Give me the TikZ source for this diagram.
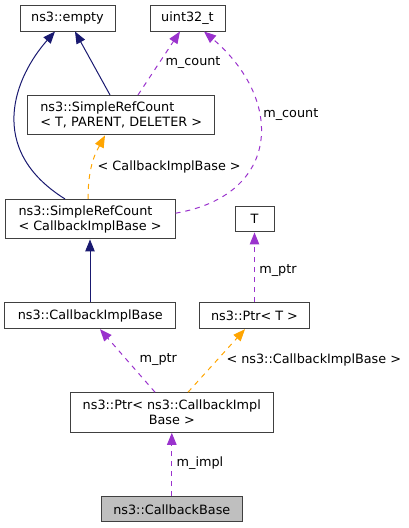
\documentclass[tikz,border=0pt]{standalone}
\usepackage{fontspec}
\setmainfont{DejaVu Sans}
\usetikzlibrary{arrows.meta}
\definecolor{inhcol}{HTML}{191970}
\definecolor{usecol}{HTML}{9A32CD}
\definecolor{tplcol}{HTML}{FFA500}
\tikzset{cls/.style={draw=black!75,line width=1pt,inner sep=0pt,minimum height=26pt,
        font=\fontsize{12.8}{15}\selectfont},
    cls2/.style={cls,align=left,minimum height=39.5pt},
    lbl/.style={inner sep=0pt,font=\fontsize{12.8}{15}\selectfont},
    inherit/.style={inhcol,line width=1pt,-{Triangle[length=12pt,width=9.5pt]}},
    member/.style={usecol,line width=1pt,dash pattern=on 5pt off 5pt,-{Triangle[length=12pt,width=9.5pt]}},
    tmpl/.style={tplcol,line width=1pt,dash pattern=on 5pt off 5pt,-{Triangle[length=12pt,width=9.5pt]}}}
\begin{document}
\begin{tikzpicture}[x=1pt,y=-1pt]
      \useasboundingbox (0,0) rectangle (409,528);
      \node[cls,minimum width=95pt] (empty) at (67.5,18) {ns3::empty};
      \node[cls,minimum width=75pt] (uint) at (187.5,18) {uint32\_t};
      \node[cls2,minimum width=187pt] (srctpd) at (121.2,115.2) {ns3::SimpleRefCount\\< T, PARENT, DELETER >};
      \node[cls2,minimum width=170pt] (srccib) at (90,219.2) {ns3::SimpleRefCount\\< CallbackImplBase >};
      \node[cls,minimum width=39pt,minimum height=25.3pt] (T) at (254.5,219.3) {T};
      \node[cls,minimum width=170.7pt] (cib) at (90.3,315.7) {ns3::CallbackImplBase};
      \node[cls,minimum width=109.6pt] (ptrT) at (254.5,315.7) {ns3::Ptr< T >};
      \node[cls,minimum width=203pt,minimum height=39.6pt,align=center] (ptrcib) at (171.8,412.5) {ns3::Ptr< ns3::CallbackImpl\\Base >};
      \node[cls,fill=black!25,minimum width=141pt,minimum height=25.3pt] (cb) at (171.8,509.3) {ns3::CallbackBase};
      % edges
      \draw[inherit] ([xshift=-25pt]srccib.north) .. controls +(-80,-50) and +(-40,45) .. ([xshift=-12.5pt]empty.south);
      \draw[inherit] ([xshift=-11.2pt]srctpd.north) -- ([xshift=7.5pt]empty.south);
      \draw[member] ([xshift=16.8pt]srctpd.north) -- ([xshift=-7.5pt]uint.south);
      \draw[member] ([yshift=6pt]srccib.east) .. controls +(105,-18) and +(81,69) .. ([xshift=16.5pt]uint.south);
      \draw[tmpl] ([xshift=-2pt]srccib.north) .. controls +(0,-35) and +(-8,15) .. ([xshift=-16.2pt]srctpd.south);
      \draw[inherit] (cib.north -| srccib.south) -- (srccib.south);
      \draw[member] (ptrT.north) -- (T.south);
      \draw[member] ([xshift=-16.8pt]ptrcib.north) -- ([xshift=9.7pt]cib.south);
      \draw[tmpl] ([xshift=16.2pt]ptrcib.north) -- ([xshift=-9.5pt]ptrT.south);
      \draw[member] (cb.north) -- (ptrcib.south);
      % labels
      \node[lbl] (l1) at (193,62.7) {m\_count};
      \node[lbl] (l2) at (290.8,114.3) {m\_count};
      \node[lbl] (l3) at (169.2,166.7) {< CallbackImplBase >};
      \node[lbl] (l4) at (278,270.7) {m\_ptr};
      \node[lbl] (l5) at (158.3,359.3) {m\_ptr};
      \node[lbl] (l6) at (313.8,360) {< ns3::CallbackImplBase >};
      \node[lbl] (l7) at (200,463.3) {m\_impl};
\end{tikzpicture}
\end{document}
